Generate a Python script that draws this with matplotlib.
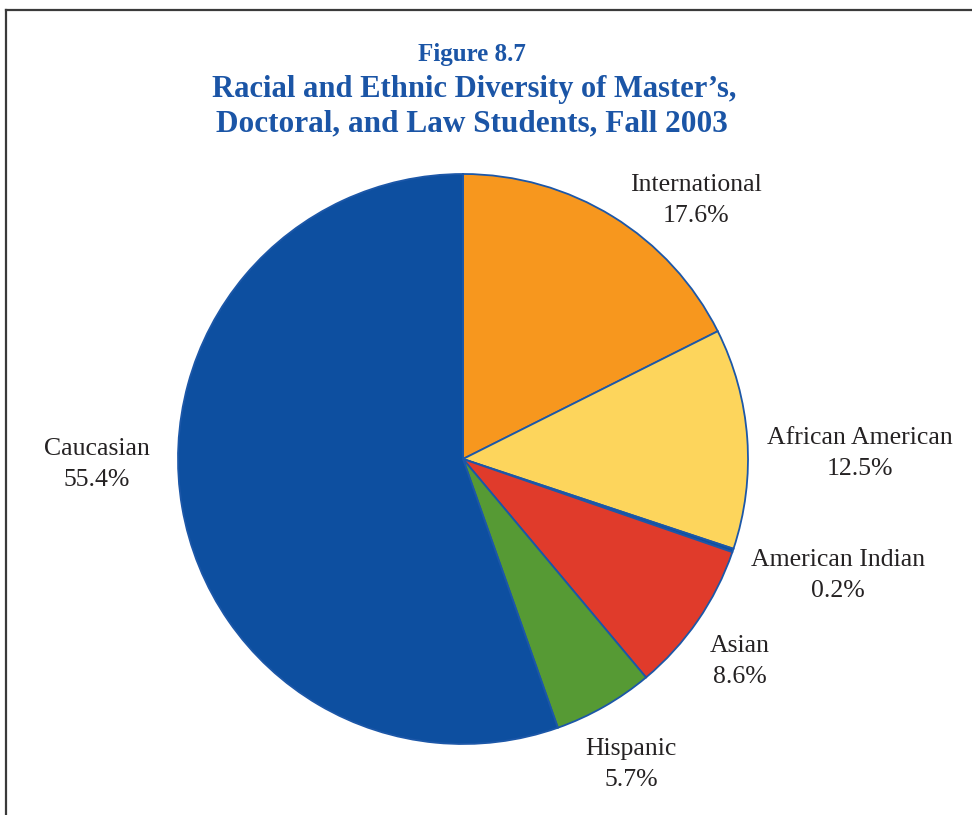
import matplotlib
matplotlib.use("Agg")
import matplotlib.pyplot as plt

# Enrollment shares, Fall 2003 (percent), clockwise from 12 o'clock
categories = ["International", "African American", "American Indian",
              "Asian", "Hispanic", "Caucasian"]
shares = [17.6, 12.5, 0.2, 8.6, 5.7, 55.4]
colors = ["#F7971E", "#FDD55C", "#0D4FA0", "#E03B2B", "#569A34", "#0D4FA0"]

# baseline of each label's first line, in pie-radius units (x, y)
label_xy = [(0.818, 0.940), (1.391, 0.053), (1.316, -0.375),
            (0.972, -0.677), (0.589, -1.039), (-1.284, 0.014)]
line_gap = 0.109

W, H, DPI = 972, 815, 100
fig = plt.figure(figsize=(W / DPI, H / DPI), dpi=DPI)
fig.patch.set_facecolor("white")

# page frame (top and left rules)
fig.add_artist(plt.Line2D([5.5 / W, 5.5 / W], [0, 1 - 9.5 / H],
                          transform=fig.transFigure, color="#3a3a3a", lw=1.6))
fig.add_artist(plt.Line2D([5.5 / W, 1], [1 - 9.5 / H, 1 - 9.5 / H],
                          transform=fig.transFigure, color="#3a3a3a", lw=1.6))

# title block
title_color = "#1B55A6"
serif = ["Liberation Serif", "DejaVu Serif"]
fig.text(472 / W, 1 - 60.5 / H, "Figure 8.7", ha="center", va="baseline",
         fontsize=18, fontweight="bold", color=title_color, family=serif)
fig.text(474 / W, 1 - 96.5 / H, "Racial and Ethnic Diversity of Master\u2019s,",
         ha="center", va="baseline", fontsize=22, fontweight="bold",
         color=title_color, family=serif)
fig.text(472 / W, 1 - 131 / H, "Doctoral, and Law Students, Fall 2003",
         ha="center", va="baseline", fontsize=22.5, fontweight="bold",
         color=title_color, family=serif)

# pie: centre (463, 459) px, radius 285 px
cx, cy, r = 463, 459, 285
ax = fig.add_axes([(cx - r) / W, 1 - (cy + r) / H, 2 * r / W, 2 * r / H])
ax.pie(shares, colors=colors, startangle=90, counterclock=False,
       radius=1.0,
       wedgeprops=dict(edgecolor="#1C57A8", linewidth=1.3))
ax.set_xlim(-1, 1)
ax.set_ylim(-1, 1)
ax.set_aspect("equal")
ax.axis("off")

for name, val, (lx, ly) in zip(categories, shares, label_xy):
    ax.text(lx, ly, name, ha="center", va="baseline",
            fontsize=18.5, color="#252223", family=serif, clip_on=False)
    ax.text(lx, ly - line_gap, f"{val:.1f}%", ha="center", va="baseline",
            fontsize=18.5, color="#252223", family=serif, clip_on=False)

fig.savefig("out.png", dpi=DPI, facecolor="white")
